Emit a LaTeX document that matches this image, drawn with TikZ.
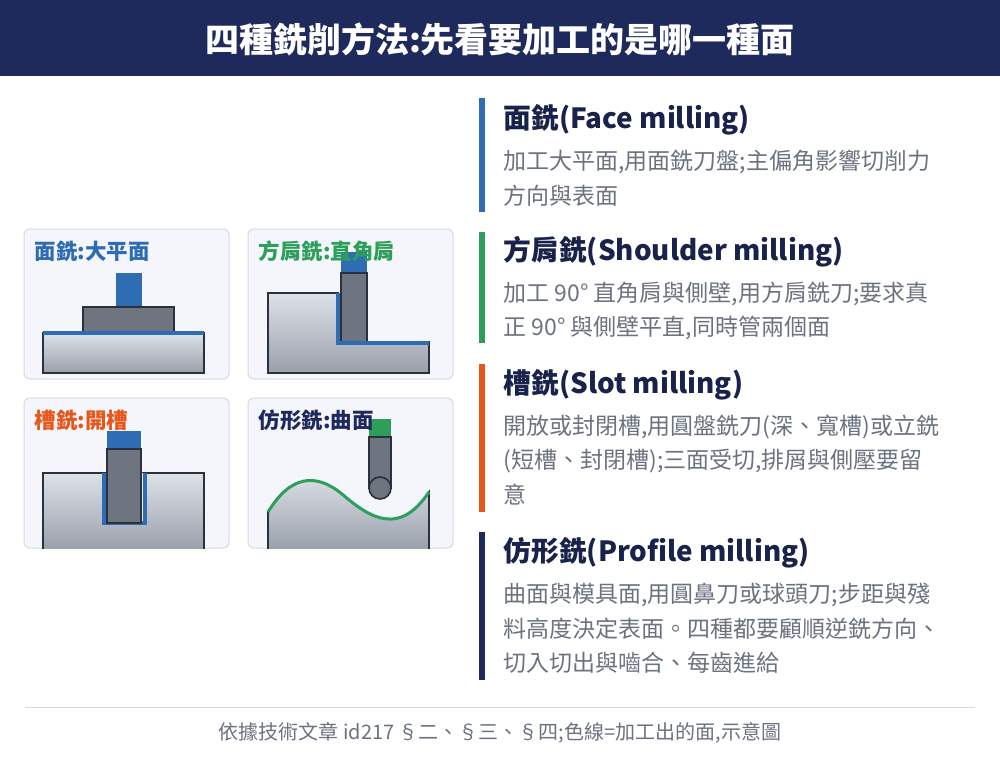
\documentclass[tikz,border=0pt]{standalone}
\usepackage{fontspec}
\setmainfont{Noto Sans CJK TC}
\definecolor{navy}{HTML}{1F2A5C}
\definecolor{cblue}{HTML}{2E6DB4}
\definecolor{cgreen}{HTML}{2E9E5B}
\definecolor{corange}{HTML}{E8561A}
\definecolor{txtgray}{HTML}{6B7280}
\definecolor{panelfill}{HTML}{F4F6FB}
\definecolor{panelline}{HTML}{D5DAE5}
\definecolor{toolgray}{HTML}{6E7581}
\definecolor{wtop}{HTML}{DDE1E8}
\definecolor{wbot}{HTML}{9AA0AB}
\definecolor{edge}{HTML}{2B303A}
\begin{document}
\begin{tikzpicture}[x=1pt,y=-1pt,
  panel/.style={fill=panelfill,draw=panelline,line width=1pt,rounded corners=6pt},
  work/.style={top color=wtop,bottom color=wbot,draw=edge,line width=1.6pt},
  tool/.style={fill=toolgray,draw=edge,line width=1.6pt},
  cut/.style={line width=3.5pt},
  ptitle/.style={anchor=west,font=\fontsize{21.5}{24}\selectfont\bfseries},
  sec/.style={anchor=west,font=\fontsize{27.8}{32}\selectfont\bfseries,text=navy!80!black},
  body/.style={anchor=west,font=\fontsize{23}{27}\selectfont,text=txtgray},
  bar/.style={line width=6pt}]
\useasboundingbox (0,0) rectangle (1000,763);
\fill[white] (0,0) rectangle (1000,763);
\fill[navy] (0,0) rectangle (1000,76);
\node[text=white,font=\fontsize{34}{38}\selectfont\bfseries] (title) at (500,39) {四種銑削方法:先看要加工的是哪一種面};
% panels
\draw[panel] (24,229) rectangle (229,379);
\draw[panel] (248,229) rectangle (453,379);
\draw[panel] (24,398) rectangle (229,548);
\draw[panel] (248,398) rectangle (453,548);
% panel 1
\fill[cblue] (116,273) rectangle (142,307);
\draw[tool] (83,307) rectangle (174,332);
\draw[work] (43,333) rectangle (204,373);
\draw[cblue,cut] (43,333) -- (204,333);
\node[ptitle,text=cblue] (p1) at (31,251) {面銑:大平面};
% panel 2
\draw[work] (268,293) -- (338,293) -- (338,342) -- (429,342) -- (429,373) -- (268,373) -- cycle;
\fill[cblue] (341,252) rectangle (367,273);
\draw[tool] (341,273) rectangle (367,342);
\draw[cblue,cut] (338,293) -- (338,343) -- (429,343);
\node[ptitle,text=cgreen] (p2) at (255,251) {方肩銑:直角肩};
% panel 3
\begin{scope}
\clip (24,398) rectangle (229,548);
\draw[work] (43,550) -- (43,473) -- (204,473) -- (204,550);
\end{scope}
\fill[panelfill!50!wtop] (104,473) rectangle (145,523);
\draw[cblue,cut] (104,473) -- (104,523) -- (145,523) -- (145,473);
\fill[cblue] (107,431) rectangle (141,449);
\draw[tool] (107,449) rectangle (141,523);
\node[ptitle,text=corange] (p3) at (31,420) {槽銑:開槽};
% panel 4
\begin{scope}
\clip (24,398) rectangle (453,548);
\draw[work] (268,550) -- (268,512) .. controls (290,476) and (315,472) .. (342,494) .. controls (372,520) and (400,535) .. (429,492) -- (429,550);
\end{scope}
\draw[cgreen,line width=3pt] (268,512) .. controls (290,476) and (315,472) .. (342,494) .. controls (372,520) and (400,535) .. (429,492);
\fill[cgreen] (369,419) rectangle (391,437);
\draw[tool] (369,437) rectangle (391,488);
\draw[tool] (380,488) circle[radius=11];
\node[ptitle,text=navy] (p4) at (255,420) {仿形銑:曲面};
% right sections
\draw[cblue,bar] (482,98) -- (482,212);
\node[sec] (s1) at (500,120) {面銑(Face milling)};
\node[body] (b1a) at (500,162) {加工大平面,用面銑刀盤;主偏角影響切削力};
\node[body] (b1b) at (500,196) {方向與表面};
\draw[cgreen,bar] (482,232) -- (482,343);
\node[sec] (s2) at (500,252) {方肩銑(Shoulder milling)};
\node[body] (b2a) at (500,294) {加工 90° 直角肩與側壁,用方肩銑刀;要求真};
\node[body] (b2b) at (500,328) {正 90° 與側壁平直,同時管兩個面};
\draw[corange,bar] (482,364) -- (482,512);
\node[sec] (s3) at (500,385) {槽銑(Slot milling)};
\node[body] (b3a) at (500,427) {開放或封閉槽,用圓盤銑刀(深、寬槽)或立銑};
\node[body] (b3b) at (500,461) {(短槽、封閉槽);三面受切,排屑與側壓要留};
\node[body] (b3c) at (500,495) {意};
\draw[navy,bar] (482,532) -- (482,680);
\node[sec] (s4) at (500,553) {仿形銑(Profile milling)};
\node[body] (b4a) at (500,595) {曲面與模具面,用圓鼻刀或球頭刀;步距與殘};
\node[body] (b4b) at (500,629) {料高度決定表面。四種都要顧順逆銑方向、};
\node[body] (b4c) at (500,663) {切入切出與嚙合、每齒進給};
% footer
\draw[panelline,line width=1pt] (25,707) -- (975,707);
\node[text=txtgray,font=\fontsize{20}{23}\selectfont] (foot) at (500,733) {依據技術文章 id217 §二、§三、§四;色線=加工出的面,示意圖};
\end{tikzpicture}
\end{document}
